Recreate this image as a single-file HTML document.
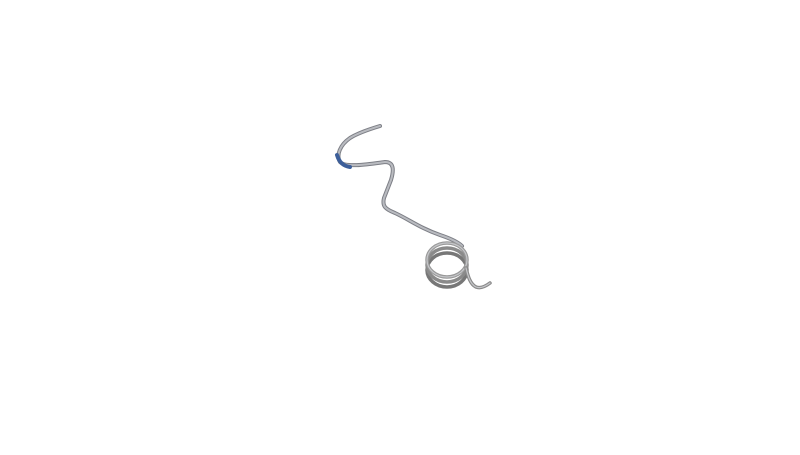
<!DOCTYPE html>
<html><head><style>
html,body{margin:0;padding:0;background:#fff;}
body{width:800px;height:450px;overflow:hidden;}
</style></head><body>
<svg width="800" height="450" viewBox="0 0 800 450" xmlns="http://www.w3.org/2000/svg">
<g fill="none" stroke-linecap="round" stroke-linejoin="round">
<path d="M380,126 C370,129 358,133 350,138 C340,145 336,155 340,162 C346,168 370,164 385,162 C394,162 394,170 391,180 L384,198 C382,206 385,209 395,213 C410,220 420,228 440,235 C452,239 458,242 462,246" stroke="#7d7f86" stroke-width="4"/>
<path d="M380,126 C370,129 358,133 350,138 C340,145 336,155 340,162 C346,168 370,164 385,162 C394,162 394,170 391,180 L384,198 C382,206 385,209 395,213 C410,220 420,228 440,235 C452,239 458,242 462,246" stroke="#b9bbc0" stroke-width="2"/>
<path d="M337,155 C339,162 343,166 350,167" stroke="#3d5f9a" stroke-width="4"/>
<ellipse cx="447" cy="270" rx="20" ry="17" stroke="#777" stroke-width="3.5"/>
<ellipse cx="447" cy="265" rx="20" ry="17" stroke="#8a8a8a" stroke-width="3.5"/>
<ellipse cx="447" cy="260" rx="20" ry="17" stroke="#999" stroke-width="3.5"/>
<ellipse cx="447" cy="260" rx="20" ry="17" stroke="#c6c7ca" stroke-width="1.2"/>
<path d="M466,268 C468,276 470,284 476,287 C481,289 486,286 490,283" stroke="#8a8a8a" stroke-width="3.5"/>
<path d="M466,268 C468,276 470,284 476,287 C481,289 486,286 490,283" stroke="#c6c7ca" stroke-width="1.2"/>
</g>
</svg>
</body></html>
